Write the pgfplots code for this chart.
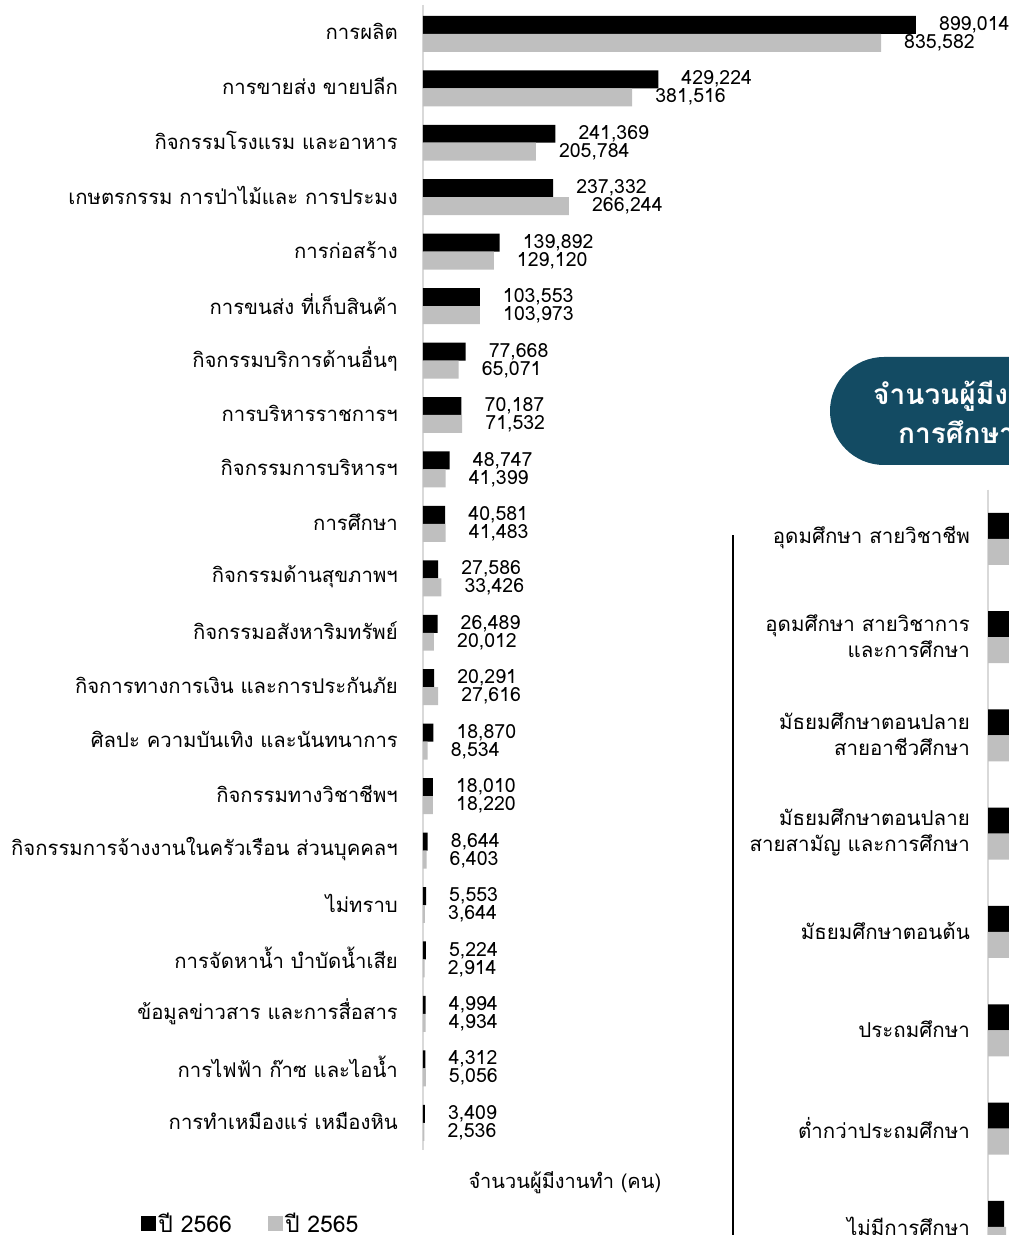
\documentclass[border=0pt]{standalone}
\usepackage{pgfplots}
\usepackage{pgfplotstable}
\pgfplotsset{compat=1.18}
\usepackage{fontspec}
\setmainfont[Script=Thai]{Loma}
\definecolor{bargray}{HTML}{BFBFBF}
\definecolor{axgray}{HTML}{D9D9D9}
\definecolor{boxblue}{HTML}{134B63}

\pgfplotstableread{
y a b
0 899014 835582
1 429224 381516
2 241369 205784
3 237332 266244
4 139892 129120
5 103553 103973
6 77668 65071
7 70187 71532
8 48747 41399
9 40581 41483
10 27586 33426
11 26489 20012
12 20291 27616
13 18870 8534
14 18010 18220
15 8644 6403
16 5553 3644
17 5224 2914
18 4994 4934
19 4312 5056
20 3409 2536
}\maindata

\pgfplotstableread{
y a b
0 310000 290000
1 420000 400000
2 180000 170000
3 450000 440000
4 380000 370000
5 500000 520000
6 150000 160000
7 40000 45000
}\edudata

\begin{document}
\begin{tikzpicture}
\useasboundingbox (0pt,0pt) rectangle (1009pt,1235pt);
\begin{scope}
\clip (0pt,0pt) rectangle (1009pt,1235pt);
% title box (cut off at the right edge)
\fill[boxblue, rounded corners=54pt] (830pt,770pt) rectangle (1120pt,878pt);
\node[anchor=west, text=white, inner sep=0pt, font=\bfseries\fontsize{28}{32}\selectfont] at (873pt,839pt) {จำนวนผู้มีงานทำ จำแนกตามระดับ};
\node[anchor=west, text=white, inner sep=0pt, font=\bfseries\fontsize{28}{32}\selectfont] at (898pt,806pt) {การศึกษาที่สำเร็จ};
% separator line
\draw[black, line width=1.2pt] (733pt,-5pt) -- (733pt,700pt);

\begin{axis}[
  at={(423pt,85pt)}, anchor=south west,
  scale only axis, width=586pt, height=1145pt,
  xmin=0, xmax=1069000,
  ymin=-0.53, ymax=20.5, y dir=reverse,
  axis y line=left, axis x line=bottom,
  x axis line style={draw=none},
  y axis line style={draw=axgray, line width=1.5pt, -},
  xtick=\empty,
  ytick={0,...,20},
  yticklabels={การผลิต, การขายส่ง ขายปลีก, กิจกรรมโรงแรม และอาหาร, เกษตรกรรม การป่าไม้และ การประมง, การก่อสร้าง, การขนส่ง ที่เก็บสินค้า, กิจกรรมบริการด้านอื่นๆ, การบริหารราชการฯ, กิจกรรมการบริหารฯ, การศึกษา, กิจกรรมด้านสุขภาพฯ, กิจกรรมอสังหาริมทรัพย์, กิจการทางการเงิน และการประกันภัย, ศิลปะ ความบันเทิง และนันทนาการ, กิจกรรมทางวิชาชีพฯ, กิจกรรมการจ้างงานในครัวเรือน ส่วนบุคคลฯ, ไม่ทราบ, การจัดหาน้ำ บำบัดน้ำเสีย, ข้อมูลข่าวสาร และการสื่อสาร, การไฟฟ้า  ก๊าซ และไอน้ำ, การทำเหมืองแร่ เหมืองหิน},
  major tick length=0pt,
  yticklabel style={font=\fontsize{20.3}{24}\selectfont, anchor=east, inner sep=0pt, xshift=-25pt, yshift=2pt},
  xlabel={จำนวนผู้มีงานทำ (คน)},
  xlabel style={at={(axis description cs:0.242,-0.0288)}, anchor=center, font=\fontsize{20}{24}\selectfont},
  xbar, bar width=0.33,
  clip=false,
  point meta=x,
  nodes near coords={\pgfmathprintnumber[assume math mode=true, fixed, precision=0, 1000 sep={,}]{\pgfplotspointmeta}},
  nodes near coords style={font=\fontsize{19.5}{19.5}\selectfont, anchor=west, inner sep=0pt, xshift=23pt},
  legend style={at={(axis description cs:-0.2935,-0.0646)}, anchor=center, draw=none, fill=none,
    legend columns=2, font=\fontsize{23}{26}\selectfont, inner sep=0pt,
    /tikz/every even column/.append style={column sep=34pt}},
  legend image code/.code={\fill[#1] (0pt,-7.5pt) rectangle (15pt,7.5pt);},
]
\addplot[fill=black, draw=none, bar shift=-0.165] table[x=a, y=y]{\maindata};
\addplot[fill=bargray, draw=none, bar shift=0.165] table[x=b, y=y]{\maindata};
\legend{ปี 2566, ปี 2565}
\end{axis}

\begin{axis}[
  at={(988pt,-41pt)}, anchor=south west,
  scale only axis, width=400pt, height=786.4pt,
  xmin=0, xmax=1000000,
  ymin=-0.5, ymax=7.5, y dir=reverse,
  axis y line=left, axis x line=bottom,
  x axis line style={draw=none},
  y axis line style={draw=axgray, line width=2.5pt, -},
  xtick=\empty,
  ytick={0,...,7},
  yticklabels={{อุดมศึกษา สายวิชาชีพ}, {อุดมศึกษา สายวิชาการ\\และการศึกษา}, {มัธยมศึกษาตอนปลาย\\สายอาชีวศึกษา}, {มัธยมศึกษาตอนปลาย\\สายสามัญ และการศึกษา}, {มัธยมศึกษาตอนต้น}, {ประถมศึกษา}, {ต่ำกว่าประถมศึกษา}, {ไม่มีการศึกษา}},
  major tick length=0pt,
  yticklabel style={font=\fontsize{20.5}{26}\selectfont, anchor=east, align=right, inner sep=0pt, xshift=-18pt, yshift=1pt},
  xbar, bar width=0.2645,
]
\addplot[fill=black, draw=none, bar shift=-0.1322] table[x=a, y=y]{\edudata};
\addplot[fill=bargray, draw=none, bar shift=0.1322] table[x=b, y=y]{\edudata};
\end{axis}
\end{scope}
\end{tikzpicture}
\end{document}
